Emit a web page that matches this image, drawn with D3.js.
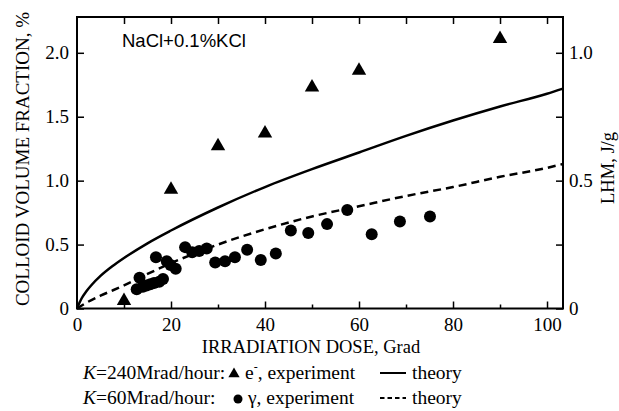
<!DOCTYPE html>
<html>
<head>
<meta charset="utf-8">
<script src="https://cdn.jsdelivr.net/npm/d3@7"></script>
<style>
  body { margin: 0; background: #fff; }
  svg { display: block; }
  .tick text { font-family: "Liberation Serif", "Times New Roman", serif; font-size: 19px; fill: #000; }
  .tick line { stroke: #000; stroke-width: 1.5; }
</style>
</head>
<body>
<div id="chart"></div>
<script>
// e- experiment, K=240Mrad/hour
const triDose = [10, 20, 30, 40, 50, 60, 90];
const triFrac = [0.06, 0.93, 1.27, 1.37, 1.73, 1.86, 2.11];

// gamma experiment, K=60Mrad/hour
const dotDose = [12.7, 13.3, 14.0, 14.8, 15.6, 16.4, 16.8, 17.5, 18.3, 19.1, 19.9, 21.0, 23.0, 24.5, 26.0, 27.6,
                 29.4, 31.5, 33.6, 36.2, 39.1, 42.3, 45.5, 49.2, 53.2, 57.5, 62.7, 68.7, 75.1];
const dotFrac = [0.15, 0.24, 0.17, 0.18, 0.19, 0.20, 0.40, 0.21, 0.23, 0.37, 0.34, 0.31, 0.48, 0.44, 0.45, 0.47,
                 0.36, 0.37, 0.40, 0.46, 0.38, 0.43, 0.61, 0.59, 0.66, 0.77, 0.58, 0.68, 0.72];

// theory curves
const solidDose = [0, 1, 2, 3, 5, 7.5, 10, 15, 20, 30, 40, 50, 60, 70, 80, 90, 100, 103.4];
const solidFrac = [0, 0.08, 0.135, 0.18, 0.255, 0.33, 0.395, 0.51, 0.61, 0.79, 0.95, 1.09, 1.22, 1.35, 1.47, 1.58, 1.68, 1.72];
const dashDose = [0, 2, 5, 10, 15, 20, 25, 30, 40, 50, 60, 70, 80, 90, 100, 103.4];
const dashFrac = [0, 0.045, 0.10, 0.18, 0.27, 0.355, 0.43, 0.50, 0.62, 0.72, 0.80, 0.88, 0.95, 1.03, 1.10, 1.13];

const xMajor = [0, 20, 40, 60, 80, 100];
const xMinor = [10, 30, 50, 70, 90];
const xTop = [10, 20, 30, 40, 50, 60, 70, 80, 90, 100];
const yTicks = [0, 0.5, 1.0, 1.5, 2.0];
const rMajor = [0, 0.5, 1.0];
const rMinor = [0.25, 0.75];

const W = 619, H = 411;
const margin = { top: 17, right: 56, bottom: 102.5, left: 77 };
const width = W - margin.left - margin.right;
const height = H - margin.top - margin.bottom;

const svg = d3.select("#chart").append("svg")
  .attr("width", W)
  .attr("height", H);

const g = svg.append("g")
  .attr("transform", `translate(${margin.left},${margin.top})`);

const x = d3.scaleLinear().domain([0, 103.4]).range([0, width]);
const y = d3.scaleLinear().domain([0, 2.28]).range([height, 0]);
const yR = d3.scaleLinear().domain([0, 1.14]).range([height, 0]);

const fmt = d => d === 0 ? "0" : d3.format(".1f")(d);

// axes, ticks pointing inward
g.append("g")
  .attr("transform", `translate(0,${height})`)
  .call(d3.axisBottom(x).tickValues(xMajor).tickSize(-7).tickPadding(9).tickFormat(d3.format("d")));
g.append("g")
  .attr("transform", `translate(0,${height})`)
  .call(d3.axisBottom(x).tickValues(xMinor).tickSize(-4).tickFormat(""));
g.append("g")
  .call(d3.axisTop(x).tickValues(xTop).tickSize(-7).tickFormat(""));
g.append("g")
  .call(d3.axisLeft(y).tickValues(yTicks).tickSize(-7).tickPadding(8).tickFormat(fmt));
g.append("g")
  .attr("transform", `translate(${width},0)`)
  .call(d3.axisRight(yR).tickValues(rMajor).tickSize(-7).tickPadding(6).tickFormat(fmt));
g.append("g")
  .attr("transform", `translate(${width},0)`)
  .call(d3.axisRight(yR).tickValues(rMinor).tickSize(-7).tickFormat(""));
g.selectAll(".domain").remove();

g.append("rect")
  .attr("width", width)
  .attr("height", height)
  .attr("fill", "none")
  .attr("stroke", "#000")
  .attr("stroke-width", 2);

// theory lines
const line = d3.line()
  .x(d => x(d[0]))
  .y(d => y(d[1]))
  .curve(d3.curveMonotoneX);

g.append("path")
  .datum(solidDose.map((d, i) => [d, solidFrac[i]]))
  .attr("d", line)
  .attr("fill", "none")
  .attr("stroke", "#000")
  .attr("stroke-width", 2.5);

g.append("path")
  .datum(dashDose.map((d, i) => [d, dashFrac[i]]))
  .attr("d", line)
  .attr("fill", "none")
  .attr("stroke", "#000")
  .attr("stroke-width", 2.5)
  .attr("stroke-dasharray", "8,5");

// experiments
g.selectAll(".dot")
  .data(dotDose.map((d, i) => [d, dotFrac[i]]))
  .enter().append("circle")
  .attr("class", "dot")
  .attr("cx", d => x(d[0]))
  .attr("cy", d => y(d[1]))
  .attr("r", 6);

const tri = d3.symbol().type(d3.symbolTriangle).size(90);
g.selectAll(".tri")
  .data(triDose.map((d, i) => [d, triFrac[i]]))
  .enter().append("path")
  .attr("class", "tri")
  .attr("d", tri)
  .attr("transform", d => `translate(${x(d[0])},${y(d[1])})`);

// labels
g.append("text")
  .attr("x", 45)
  .attr("y", 30)
  .style("font-family", "'Liberation Sans', Arial, sans-serif")
  .style("font-size", "18.5px")
  .text("NaCl+0.1%KCl");

const serif = "'Liberation Serif', 'Times New Roman', serif";

svg.append("text")
  .attr("transform", "translate(29,159) rotate(-90)")
  .attr("text-anchor", "middle")
  .style("font-family", serif)
  .style("font-size", "19px")
  .text("COLLOID VOLUME FRACTION, %");

svg.append("text")
  .attr("transform", "translate(614,168) rotate(-90)")
  .attr("text-anchor", "middle")
  .style("font-family", serif)
  .style("font-size", "18.5px")
  .text("LHM, J/g");

svg.append("text")
  .attr("x", 311)
  .attr("y", 353)
  .attr("text-anchor", "middle")
  .style("font-family", serif)
  .style("font-size", "18.5px")
  .text("IRRADIATION DOSE, Grad");

// legend
const legend = svg.append("g")
  .style("font-family", serif)
  .style("font-size", "19.5px");

const row1 = legend.append("text").attr("x", 83).attr("y", 379);
row1.append("tspan").style("font-style", "italic").text("K");
row1.append("tspan").text("=240Mrad/hour:");
const row2 = legend.append("text").attr("x", 83).attr("y", 404);
row2.append("tspan").style("font-style", "italic").text("K");
row2.append("tspan").text("=60Mrad/hour:");

legend.append("path")
  .attr("d", d3.symbol().type(d3.symbolTriangle).size(55))
  .attr("transform", "translate(234,374)");
legend.append("circle").attr("cx", 238).attr("cy", 399).attr("r", 4.5);

const e1 = legend.append("text").attr("x", 245).attr("y", 379);
e1.append("tspan").text("e");
e1.append("tspan").attr("dy", -8).style("font-size", "12px").text("-");
e1.append("tspan").attr("dy", 8).text(", experiment");
legend.append("text").attr("x", 248).attr("y", 404).text("γ, experiment");

legend.append("line")
  .attr("x1", 380).attr("x2", 406).attr("y1", 373).attr("y2", 373)
  .attr("stroke", "#000").attr("stroke-width", 2);
legend.append("line")
  .attr("x1", 380).attr("x2", 406).attr("y1", 398).attr("y2", 398)
  .attr("stroke", "#000").attr("stroke-width", 2).attr("stroke-dasharray", "4.5,3");
legend.append("text").attr("x", 412).attr("y", 379).text("theory");
legend.append("text").attr("x", 412).attr("y", 404).text("theory");
</script>
</body>
</html>
